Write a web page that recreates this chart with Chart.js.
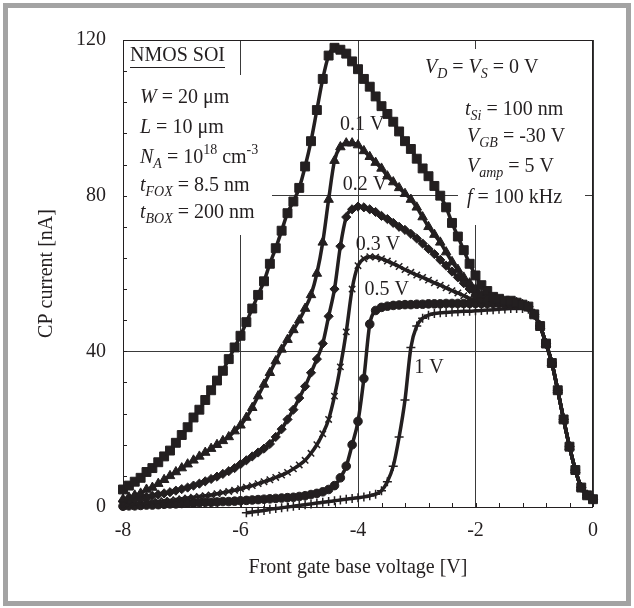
<!DOCTYPE html>
<html>
<head>
<meta charset="utf-8">
<title>CP current vs front gate base voltage</title>
<script src="https://cdn.jsdelivr.net/npm/chart.js@4.4.0/dist/chart.umd.min.js"></script>
<style>
  html, body { margin: 0; padding: 0; background: #fff; }
  #chart { display: block; }
</style>
</head>
<body>
<canvas id="chart" width="634" height="608"></canvas>
<script>
/* ---------- data ---------- */
var VGS = [
  -8.0, -7.9, -7.8, -7.7, -7.6, -7.5, -7.4, -7.3, -7.2, -7.1,
  -7.0, -6.9, -6.8, -6.7, -6.6, -6.5, -6.4, -6.3, -6.2, -6.1,
  -6.0, -5.9, -5.8, -5.7, -5.6, -5.5, -5.4, -5.3, -5.2, -5.1,
  -5.0, -4.9, -4.8, -4.7, -4.6, -4.5, -4.4, -4.3, -4.2, -4.1,
  -4.0, -3.9, -3.8, -3.7, -3.6, -3.5, -3.4, -3.3, -3.2, -3.1,
  -3.0, -2.9, -2.8, -2.7, -2.6, -2.5, -2.4, -2.3, -2.2, -2.1,
  -2.0, -1.9, -1.8, -1.7, -1.6, -1.5, -1.4, -1.3, -1.2, -1.1,
  -1.0, -0.9, -0.8, -0.7, -0.6, -0.5, -0.4, -0.3, -0.2, -0.1,
  0.0
];
// the 1 V sweep starts at -5.9 V
var VGS_1V = VGS.slice(21);

var I_0V = [
  4.5, 5.5, 6.5, 7.5, 9, 10, 11.5, 13, 14.5, 16.5,
  18.5, 20.5, 23, 25, 27.5, 30, 32.5, 35, 38, 41,
  44, 47.5, 51, 54.5, 58, 62.5, 66.5, 71, 75.5, 78.5,
  82, 87.5, 94, 102, 110, 116, 118, 117.5, 116.5, 114.5,
  112.5, 110, 108, 105.5, 103, 101, 99, 96.5, 94, 92,
  89.5, 87, 85, 82.5, 80, 77, 73, 69.5, 66, 62.5,
  59.5, 57, 55.5, 54, 53.5, 53, 53, 52.5, 52, 51.5,
  49.5, 46.5, 42, 37, 30, 22.5, 15.5, 9.5, 5, 3,
  2
];
var I_01V = [
  2, 2.5, 3, 3.5, 4.5, 5, 6, 7, 8, 9,
  10, 11, 12, 13, 14, 15, 16, 17, 18, 19.5,
  21, 23, 25.5, 28.5, 31.5, 34.5, 37.5, 40.5, 43, 45.5,
  48, 51, 54.5, 60, 68, 79, 89, 92.5, 93.5, 93.5,
  93, 91.5, 90, 88.5, 87, 85, 83.5, 82, 80.5, 79,
  77, 74.5, 72, 70, 68, 65.5, 63, 61, 59, 57.5,
  56, 54.5, 53.5, 53, 53, 52.5, 52.5, 52.5, 52, 51.5,
  49.5, 46.5, 42, 37, 30, 22.5, 15.5, 9.5, 5, 3,
  2
];
var I_02V = [
  1.5, 1.8, 2, 2.3, 2.6, 2.9, 3.2, 3.5, 3.8, 4.2,
  4.6, 5, 5.5, 6, 6.6, 7.2, 7.8, 8.5, 9.2, 10,
  11, 12, 13, 14, 15, 16.2, 18, 20, 22.5, 25,
  28, 31, 34.5, 38, 42, 49, 56, 67, 74.5, 76.5,
  77.2, 77, 76.5, 75.8, 74.8, 74, 73, 72, 71.2, 70.2,
  69, 67.7, 66.3, 65, 63.5, 62, 60.5, 59, 57.5, 56,
  54.5, 53.5, 53, 52.8, 52.7, 52.5, 52.5, 52.3, 52, 51.5,
  49.5, 46.5, 42, 37, 30, 22.5, 15.5, 9.5, 5, 3,
  2
];
var I_03V = [
  0.5, 0.7, 0.9, 1.0, 1.1, 1.3, 1.4, 1.6, 1.7, 1.9,
  2.1, 2.3, 2.5, 2.7, 2.9, 3.1, 3.4, 3.7, 4, 4.3,
  4.7, 5.1, 5.5, 6, 6.5, 7, 7.6, 8.2, 8.9, 9.8,
  10.8, 12, 13.8, 16, 18.8, 22.5, 28.5, 36, 45, 56,
  62, 63.8, 64.3, 64.2, 63.8, 63.2, 62.5, 61.8, 61, 60.3,
  59.6, 59, 58.3, 57.6, 57, 56.3, 55.6, 55, 54.3, 53.6,
  53.2, 52.8, 52.6, 52.5, 52.4, 52.3, 52.3, 52.2, 52, 51.5,
  49.5, 46.5, 42, 37, 30, 22.5, 15.5, 9.5, 5, 3,
  2
];
var I_05V = [
  0.2, 0.3, 0.3, 0.4, 0.5, 0.5, 0.6, 0.7, 0.8, 0.8,
  0.9, 1.0, 1.0, 1.1, 1.2, 1.2, 1.3, 1.4, 1.4, 1.5,
  1.6, 1.7, 1.8, 1.9, 2.0, 2.1, 2.2, 2.3, 2.4, 2.5,
  2.7, 2.9, 3.2, 3.5, 3.9, 4.5, 5.5, 7.5, 10.5, 16,
  22, 33, 47, 50.5, 51.3, 51.6, 51.8, 51.9, 52, 52,
  52.1, 52.1, 52.2, 52.2, 52.2, 52.3, 52.3, 52.3, 52.3, 52.3,
  52.3, 52.3, 52.3, 52.3, 52.3, 52.2, 52.2, 52.1, 51.9, 51.4,
  49.5, 46.5, 42, 37, 30, 22.5, 15.5, 9.5, 5, 3,
  2
];
var I_1V = [
  -1.5, -1.3, -1.1, -0.9, -0.6, -0.4, -0.2, 0, 0.2,
  0.4, 0.6, 0.8, 1.0, 1.2, 1.4, 1.6, 1.8, 2.0, 2.2,
  2.4, 2.6, 2.9, 3.3, 4.2, 6.5, 10.5, 18, 27.5, 41,
  46.5, 48.5, 49.3, 49.7, 49.9, 50, 50.1, 50.2, 50.3, 50.3,
  50.4, 50.5, 50.6, 50.7, 50.8, 50.9, 51, 51, 51, 50.8,
  49.3, 46.5, 42, 37, 30, 22.5, 15.5, 9.5, 5, 3,
  2
];

var X_TICKS = [-8, -6, -4, -2, 0];
var Y_TICKS = [0, 40, 80, 120];

var CURVE_LABELS = [
  { text: "0.1 V", x: -3.93, y: 98.2 },
  { text: "0.2 V", x: -3.88, y: 82.8 },
  { text: "0.3 V", x: -3.66, y: 67.4 },
  { text: "0.5 V", x: -3.51, y: 55.8 },
  { text: "1 V",   x: -2.79, y: 35.7 }
];

/* ---------- styling ---------- */
var INK = "#231f20";
var SERIF = '"Liberation Serif", "Times New Roman", serif';

function pts(xs, ys) {
  return ys.map(function (y, i) { return { x: xs[i], y: y }; });
}

function series(label, xs, ys, style, radius, bw) {
  return {
    label: label,
    data: pts(xs, ys),
    borderColor: INK,
    backgroundColor: INK,
    borderWidth: 3.5,
    pointStyle: style,
    pointRadius: radius,
    pointBorderWidth: bw,
    pointBackgroundColor: INK,
    pointBorderColor: INK,
    cubicInterpolationMode: "monotone",
    clip: false
  };
}

/* rich text: italic, subscript, superscript pieces */
function drawRich(ctx, x, y, parts, size) {
  ctx.textBaseline = "middle";
  ctx.textAlign = "left";
  parts.forEach(function (p) {
    var s = (p.sub || p.sup) ? Math.round(size * 0.68) : size;
    ctx.font = (p.i ? "italic " : "") + s + "px " + SERIF;
    var dy = p.sub ? size * 0.32 : (p.sup ? -size * 0.4 : 0);
    ctx.fillText(p.t, x, y + dy);
    x += ctx.measureText(p.t).width;
  });
  return x;
}

var LEFT_NOTES = [
  { y: 98,  parts: [{ t: "W", i: 1 }, { t: " = 20 μm" }] },
  { y: 128, parts: [{ t: "L", i: 1 }, { t: " = 10 μm" }] },
  { y: 158, parts: [{ t: "N", i: 1 }, { t: "A", i: 1, sub: 1 }, { t: " = 10" }, { t: "18", sup: 1 }, { t: " cm" }, { t: "-3", sup: 1 }] },
  { y: 186, parts: [{ t: "t", i: 1 }, { t: "FOX", i: 1, sub: 1 }, { t: " = 8.5 nm" }] },
  { y: 213, parts: [{ t: "t", i: 1 }, { t: "BOX", i: 1, sub: 1 }, { t: " = 200 nm" }] }
];
var RIGHT_NOTES = [
  { x: 425, y: 68,  parts: [{ t: "V", i: 1 }, { t: "D", i: 1, sub: 1 }, { t: " = " }, { t: "V", i: 1 }, { t: "S", i: 1, sub: 1 }, { t: " = 0 V" }] },
  { x: 465, y: 110, parts: [{ t: "t", i: 1 }, { t: "Si", i: 1, sub: 1 }, { t: " = 100 nm" }] },
  { x: 467, y: 137, parts: [{ t: "V", i: 1 }, { t: "GB", i: 1, sub: 1 }, { t: " = -30 V" }] },
  { x: 467, y: 167, parts: [{ t: "V", i: 1 }, { t: "amp", i: 1, sub: 1 }, { t: " = 5 V" }] },
  { x: 467, y: 198, parts: [{ t: "f", i: 1 }, { t: " = 100 kHz" }] }
];

var decorPlugin = {
  id: "decor",
  beforeDraw: function (chart) {
    var ctx = chart.ctx;
    ctx.save();
    ctx.fillStyle = "#fff";
    ctx.fillRect(0, 0, chart.width, chart.height);
    ctx.strokeStyle = "#a3a3a3";
    ctx.lineWidth = 5;
    ctx.strokeRect(5.5, 5.5, chart.width - 11, chart.height - 10);
    ctx.restore();
  },
  beforeDatasetsDraw: function (chart) {
    var ctx = chart.ctx, a = chart.chartArea;
    var xs = chart.scales.x, ys = chart.scales.y;
    ctx.save();

    // white boxes behind the notes hide the grid
    ctx.fillStyle = "#fff";
    ctx.fillRect(a.left + 1, 75, 148, 160);
    ctx.fillRect(458, 49, 127, 176);

    // plot frame
    ctx.strokeStyle = INK;
    ctx.lineWidth = 1;
    ctx.strokeRect(a.left + 0.5, a.top + 0.5, a.right - a.left - 1, a.bottom - a.top);

    // minor ticks, pointing inward
    ctx.beginPath();
    for (var v = -8; v <= 0.001; v += 0.4) {
      var px = Math.round(xs.getPixelForValue(v)) + 0.5;
      ctx.moveTo(px, a.bottom);
      ctx.lineTo(px, a.bottom - 4);
    }
    for (var w = 0; w <= 120.001; w += 8) {
      var py = Math.round(ys.getPixelForValue(w)) + 0.5;
      ctx.moveTo(a.left, py);
      ctx.lineTo(a.left + 4, py);
    }
    ctx.stroke();

    // notes
    ctx.fillStyle = INK;
    ctx.font = "20px " + SERIF;
    ctx.textBaseline = "middle";
    ctx.textAlign = "left";
    ctx.fillText("NMOS SOI", 130, 56);
    var uw = ctx.measureText("NMOS SOI").width;
    ctx.fillRect(130, 67, uw, 1);
    LEFT_NOTES.forEach(function (n) { drawRich(ctx, 140, n.y, n.parts, 20); });
    RIGHT_NOTES.forEach(function (n) { drawRich(ctx, n.x, n.y, n.parts, 20); });

    // curve labels
    ctx.font = "20px " + SERIF;
    ctx.textAlign = "center";
    CURVE_LABELS.forEach(function (l) {
      ctx.fillText(l.text, xs.getPixelForValue(l.x), ys.getPixelForValue(l.y));
    });
    ctx.restore();
  }
};

new Chart(document.getElementById("chart"), {
  type: "line",
  data: {
    datasets: [
      series("0 V",   VGS,    I_0V,  "rect",     6.3, 1),
      series("0.1 V", VGS,    I_01V, "triangle", 5.5, 1),
      series("0.2 V", VGS,    I_02V, "rectRot",  4.6, 1),
      series("0.3 V", VGS,    I_03V, "crossRot", 4.5, 1.5),
      series("0.5 V", VGS,    I_05V, "circle",   4.3, 1),
      series("1 V",   VGS_1V, I_1V,  "cross",    4.5, 1.5)
    ]
  },
  options: {
    responsive: false,
    animation: false,
    events: [],
    layout: { padding: { left: 0, top: 40, right: 41, bottom: 0 } },
    plugins: { legend: { display: false }, tooltip: { enabled: false } },
    scales: {
      x: {
        type: "linear",
        min: -8,
        max: 0,
        afterFit: function (s) { s.height = 101; },
        afterBuildTicks: function (s) { s.ticks = X_TICKS.map(function (v) { return { value: v }; }); },
        ticks: { padding: 12, color: INK, font: { family: SERIF, size: 20 } },
        grid: { drawTicks: false, color: "#3a3a3a", lineWidth: 1 },
        border: { display: false },
        title: {
          display: true,
          text: "Front gate base voltage [V]",
          color: INK,
          font: { family: SERIF, size: 20 },
          padding: { top: 0, bottom: 28 }
        }
      },
      y: {
        min: 0,
        max: 120,
        afterFit: function (s) { s.width = 123; },
        afterBuildTicks: function (s) { s.ticks = Y_TICKS.map(function (v) { return { value: v }; }); },
        ticks: { padding: 17, color: INK, font: { family: SERIF, size: 20 } },
        grid: { drawTicks: false, color: "#3a3a3a", lineWidth: 1 },
        border: { display: false },
        title: {
          display: true,
          text: "CP current [nA]",
          color: INK,
          font: { family: SERIF, size: 20 },
          padding: { top: 35, bottom: 0 }
        }
      }
    }
  },
  plugins: [decorPlugin]
});
</script>
</body>
</html>
